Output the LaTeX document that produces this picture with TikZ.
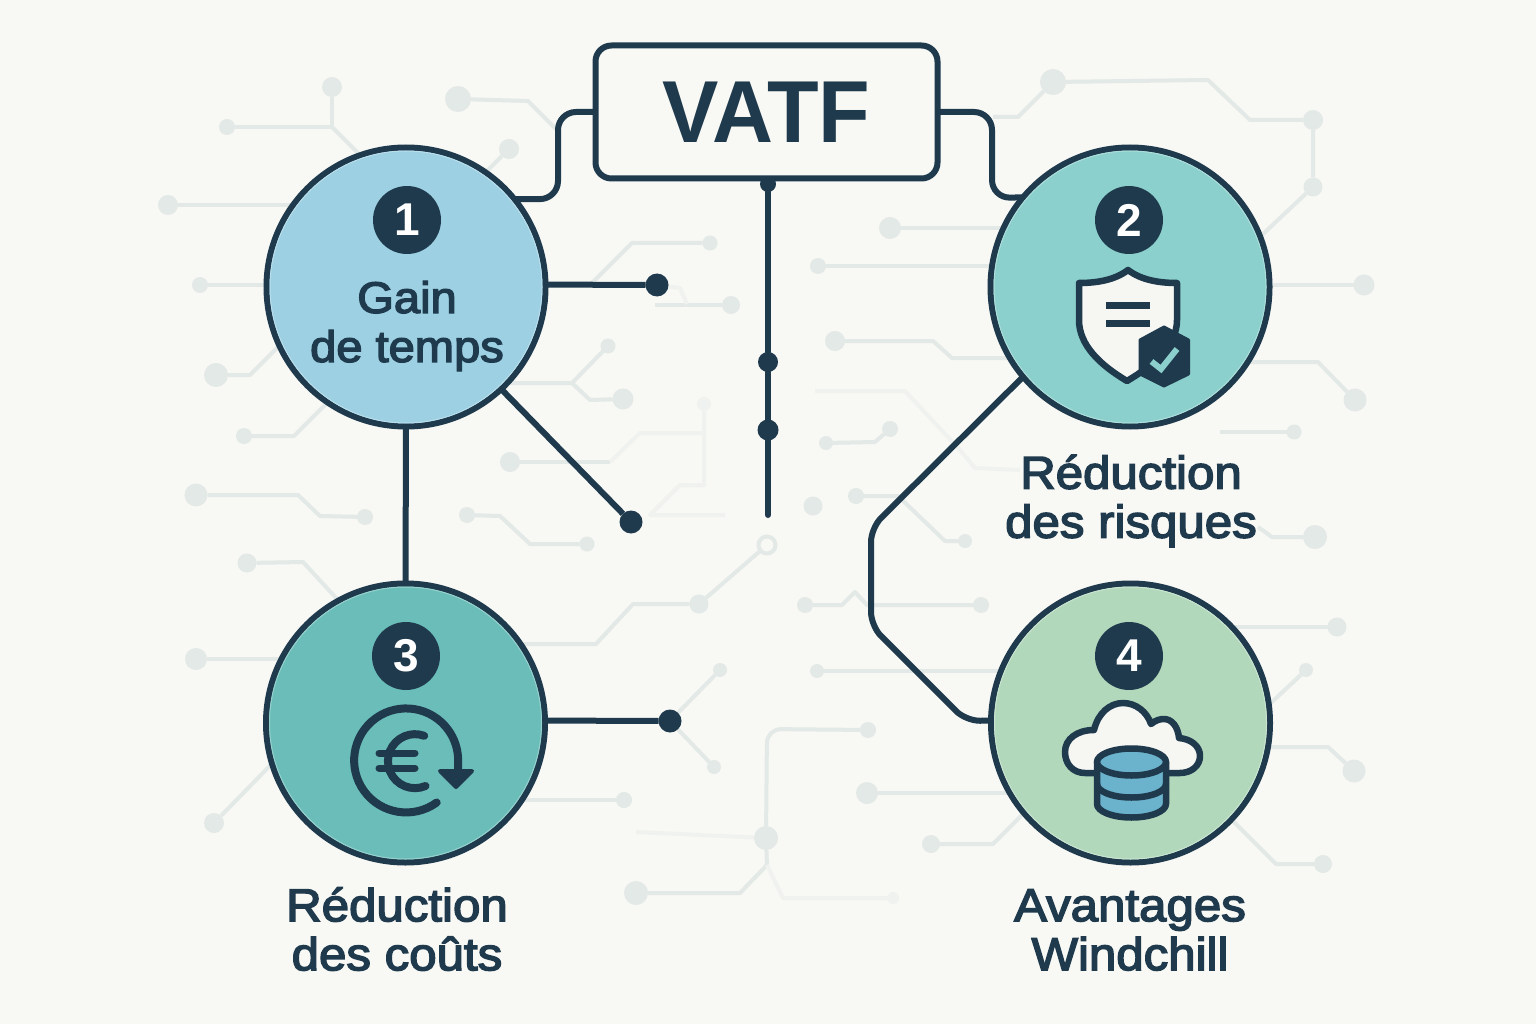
\documentclass[tikz,border=0pt]{standalone}
\usepackage{fontspec}
\setmainfont{Liberation Sans}
\newfontfamily\labfont[FakeBold=3.2,FakeStretch=1.07]{Liberation Sans}
\newfontfamily\titlefont[FakeStretch=0.96]{Liberation Sans Bold}
\newfontfamily\numfont{Liberation Sans Bold}
\definecolor{ink}{HTML}{1F3A4D}
\definecolor{paper}{HTML}{F8F8F4}
\definecolor{trace}{HTML}{E3E9E7}
\definecolor{tracef}{HTML}{F0F2EF}
\definecolor{fillA}{HTML}{9CD0E2}
\definecolor{fillB}{HTML}{8BD0CC}
\definecolor{fillC}{HTML}{6BBDB9}
\definecolor{fillD}{HTML}{B2D8BC}
\definecolor{iconw}{HTML}{F6F6F3}
\definecolor{dbblue}{HTML}{6BB2CC}
\pgfdeclarelayer{traces}
\pgfdeclarelayer{conn}
\pgfsetlayers{traces,conn,main}
\tikzset{
  hub/.style={circle,draw=ink,line width=6pt,inner sep=0pt,outer sep=0pt,minimum size=279pt},
  rim/.style={line width=1pt},
  badge/.style={circle,fill=ink,text=white,inner sep=0pt,minimum size=68pt,font=\fontsize{46}{46}\selectfont\numfont},
  label/.style={text=ink,align=center,inner sep=0pt,font=\fontsize{46}{49}\selectfont\labfont},
  titlebox/.style={draw=ink,fill=paper,line width=6pt,rounded corners=16pt,inner sep=0pt,outer sep=0pt,minimum width=342pt,minimum height=133pt,text=ink,font=\fontsize{88}{88}\selectfont\titlefont},
  conn/.style={draw=ink,line width=6pt,line join=round},
  ddot/.style={circle,fill=ink,inner sep=0pt,outer sep=0pt},
  tdot/.style={circle,fill=trace,inner sep=0pt,outer sep=0pt},
  fdot/.style={circle,fill=tracef,inner sep=0pt,outer sep=0pt},
  tline/.style={draw=trace,line width=4pt,line join=round},
  fline/.style={draw=tracef,line width=4pt,line join=round},
  icon/.style={draw=ink,line width=6.5pt,line join=round},
}
\newcommand{\td}[4]{\node[tdot,minimum size=#4pt] (#1) at (#2,#3) {};}
\begin{document}
\begin{tikzpicture}[x=1pt,y=-1pt]
\useasboundingbox (0,0) rectangle (1536,1024);
% main nodes
\node[hub,fill=fillA] (c1) at (406,287) {};
\node[hub,fill=fillB] (c2) at (1130,287) {};
\node[hub,fill=fillC] (c3) at (405.5,723) {};
\node[hub,fill=fillD] (c4) at (1130.5,723) {};
\draw[rim,draw=fillA!70!white] (c1) circle (136);
\draw[rim,draw=fillB!70!white] (c2) circle (136);
\draw[rim,draw=fillC!70!white] (c3) circle (136);
\draw[rim,draw=fillD!70!white] (c4) circle (136);
\node[titlebox] (box) at (766.5,112) {\raisebox{-6pt}{VATF}};
\node[badge] (n1) at (407,220) {1};
\node[badge] (n2) at (1129,220) {2};
\node[badge] (n3) at (406,656) {3};
\node[badge] (n4) at (1129,656) {4};
\node[label,font=\fontsize{44}{49}\selectfont\labfont] (l1) at (407,326) {Gain\\de temps};
\node[label] (l2) at (1131,501) {Réduction\\des risques};
\node[label] (l3) at (397,929) {Réduction\\des coûts};
\node[label] (l4) at (1130,930) {Avantages\\Windchill};
\node[ddot,minimum size=23pt] (d1) at (657,285) {};
\node[ddot,minimum size=23pt] (d2) at (631,522) {};
\node[ddot,minimum size=23pt] (d3) at (670,721) {};
\node[ddot,minimum size=16pt] (s0) at (768,184) {};
\node[ddot,minimum size=20pt] (s1) at (768,362) {};
\node[ddot,minimum size=21pt] (s2) at (768,430) {};
\coordinate (s3) at (768,515);
% shield icon
\draw[icon,fill=iconw] (1128,270) .. controls (1115,280) and (1097,283) .. (1079,283) -- (1079,320)
  .. controls (1079,345) and (1100,365) .. (1127,381) .. controls (1154,365) and (1177,345) .. (1177,320)
  -- (1177,283) .. controls (1159,283) and (1141,280) .. (1128,270) -- cycle;
\fill[ink] (1106,302) rectangle (1150,309);
\fill[ink] (1106,319.5) rectangle (1150,326.5);
\fill[ink,draw=ink,line width=3pt,line join=round] (1164,327) -- (1188.5,340) -- (1188.5,374) -- (1164,386) -- (1140,374) -- (1140,340) -- cycle;
\draw[draw=fillB,line width=6pt] (1151.5,361.5) -- (1161,369) -- (1177,349);
% euro icon
\draw[draw=ink,line width=8pt,line cap=round] (436.7,802.5) arc[start angle=54,end angle=360,radius=52] -- (458,770);
\fill[ink,draw=ink,line width=4pt,line join=round] (440,771) -- (472,771) -- (456,787) -- cycle;
\draw[draw=ink,line width=8pt,line cap=round] (425.5,786) arc[start angle=67,end angle=290,radius=27];
\draw[draw=ink,line width=7pt,line cap=round] (379,753) -- (415,753);
\draw[draw=ink,line width=7pt,line cap=round] (379,768) -- (415,768);
% cloud + database icon
\draw[icon,fill=iconw] (1098,773) -- (1085,773) .. controls (1073,773) and (1065,764) .. (1065,752)
  .. controls (1065,739) and (1077,730) .. (1094,730) .. controls (1098,713) and (1110,703) .. (1123,703)
  .. controls (1136,703) and (1147,712) .. (1151,724) .. controls (1156,720) and (1160,719) .. (1164,719)
  .. controls (1172,719) and (1178,727) .. (1179,738) .. controls (1191,739) and (1200,746) .. (1200,756)
  .. controls (1200,766) and (1191,773) .. (1180,773) -- (1166,773) -- cycle;
\draw[icon,fill=dbblue] (1097,762) -- (1097,804) arc[start angle=180,end angle=0,x radius=34.5,y radius=13.5] -- (1166,762) -- cycle;
\draw[icon,fill=dbblue] (1131.5,762) ellipse (34.5 and 13.5);
\draw[icon] (1097,784) arc[start angle=180,end angle=0,x radius=34.5,y radius=13.5];
% connectors
\begin{pgfonlayer}{conn}
\draw[conn,rounded corners=18pt] (box.west) -- (558,112) -- (558,199) -- (c1.39);
\draw[conn,rounded corners=18pt] (box.east) -- (992,112) -- (992,198) -- (c2.140);
\draw[conn] (c1.1) -- (d1);
\draw[conn] (c1.-47) -- (d2);
\draw[conn] (c1.south) -- (c3.north);
\draw[conn] (c3.1) -- (d3);
\draw[conn,line cap=round] (box.south -| s0) -- (s0) -- (s1) -- (s2) -- (s3);
\draw[conn,rounded corners=14pt] (c2.220) -- (871,528) -- (871,626) -- (966,721) -- (c4.179);
\end{pgfonlayer}
% background traces
\begin{pgfonlayer}{traces}
\fill[paper] (0,0) rectangle (1536,1024);
\td{a1}{332}{87}{20}\td{a2}{227}{127}{16}
\draw[tline] (a1) -- (332,127) -- (a2); \draw[tline] (332,127) -- (380,175);
\td{a3}{458}{99}{26}\draw[tline] (a3) -- (528,101) -- (556,129);
\td{a4}{509}{149}{20}\draw[tline] (a4) -- (470,188);
\td{a5}{168}{205}{20}\draw[tline] (a5) -- (a5 -| c1);
\td{a6}{200}{285}{16}\draw[tline] (a6) -- (a6 -| c1);
\td{a7}{216}{375}{24}\draw[tline] (a7) -- (250,375) -- (300,325);
\td{a8}{244}{436}{16}\draw[tline] (a8) -- (294,436) -- (342,388);
\td{a9}{196}{495}{23}\td{a10}{365}{517}{16}\draw[tline] (a9) -- (298,495) -- (320,516) -- (a10);
\td{b1}{467}{515}{16}\td{b2}{587}{544}{15}\draw[tline] (b1) -- (500,516) -- (530,544) -- (b2);
\td{b3}{510}{462}{20}\draw[tline] (b3) -- (610,462);
\node[fdot,minimum size=14pt] (b4) at (704,404) {};
\draw[fline] (610,462) -- (640,433) -- (704,433);
\draw[fline] (b4) -- (704,485) -- (680,485) -- (650,515) -- (725,515);
\td{b5}{608}{346}{15}\td{b6}{623}{399}{21}
\draw[tline] (450,383) -- (572,383) -- (b5); \draw[tline] (572,383) -- (590,400) -- (b6);
\td{b7}{710}{243}{15}\draw[tline] (590,285) -- (632,243) -- (b7);
\td{b8}{731}{305}{18}\draw[tline] (655,305) -- (b8);
\draw[fline] (d1) -- (680,288) -- (687,304);
\td{e1}{818}{266}{16}\draw[tline] (e1) -- (e1 -| c2);
\td{e2}{890}{228}{22}\draw[tline] (e2) -- (e2 -| c2);
\td{e3}{835}{341}{20}\draw[tline] (e3) -- (933,341) -- (952,358) -- (1040,358);
\draw[fline] (815,391) -- (905,391) -- (960,450) -- (975,468) -- (1020,470);
\td{e4}{826}{443}{14}\td{e5}{890}{429}{16}\draw[tline] (e4) -- (875,442) -- (e5);
\td{e6}{813}{506}{19}
\td{e7}{856}{496}{16}\td{e8}{965}{541}{14}\draw[tline] (e7) -- (898,496) -- (945,541) -- (e8);
\node[draw=trace,fill=paper,line width=4pt,circle,inner sep=0pt,outer sep=0pt,minimum size=17pt] (f1) at (767,545) {};
\td{f2}{699}{604}{19}
\draw[tline] (f1) -- (f2) -- (633,604) -- (596,644) -- (500,644);
\td{g1}{247}{563}{19}\draw[tline] (g1) -- (303,562) -- (360,624);
\td{g2}{196}{659}{22}\draw[tline] (g2) -- (g2 -| c3);
\td{g3}{214}{823}{20}\draw[tline] (g3) -- (300,735);
\td{g4}{624}{800}{16}\draw[tline] (g4) -- (g4 -| c3);
\td{g5}{720}{670}{14}\td{g6}{714}{767}{14}\draw[tline] (d3) -- (g5); \draw[tline] (d3) -- (g6);
\td{g7}{868}{730}{16}\td{g8}{766}{838}{24}\td{g9}{636}{893}{24}
\draw[tline,rounded corners=14pt] (g7) -- (767,729) -- (g8);
\draw[tline] (g8) -- (767,865) -- (740,893) -- (g9);
\draw[fline] (636,832) -- (g8);
\node[fdot,minimum size=12pt] (g10) at (893,898) {};
\draw[fline] (767,865) -- (783,898) -- (g10);
\td{h1}{805}{605}{16}\td{h2}{981}{605}{16}\draw[tline] (h1) -- (842,605) -- (855,592) -- (867,605) -- (h2);
\td{h3}{817}{671}{14}\draw[tline] (h3) -- (h3 -| c4);
\td{h4}{867}{793}{22}\draw[tline] (h4) -- (h4 -| c4);
\td{h5}{931}{844}{18}\draw[tline] (h5) -- (993,844) -- (1060,777);
\td{h6}{1337}{627}{19}\draw[tline] (h6) -- (h6 -| c4);
\td{h7}{1306}{670}{14}\draw[tline] (h7) -- (1240,732);
\td{h8}{1354}{771}{23}\draw[tline] (h8) -- (1328,747) -- (1230,747);
\td{h9}{1323}{864}{18}\draw[tline] (h9) -- (1276,864) -- (1200,788);
\td{k1}{1053}{82}{26}\td{k2}{1313}{120}{20}\td{k3}{1313}{187}{19}
\draw[tline] (k1) -- (1208,80) -- (1250,120) -- (k2) -- (k3) -- (1230,265);
\draw[tline] (k1) -- (1018,117) -- (993,117);
\td{k4}{1364}{285}{21}\draw[tline] (k4) -- (k4 -| c2);
\td{k5}{1355}{400}{23}\draw[tline] (k5) -- (1318,362) -- (1220,362);
\td{k6}{1294}{432}{15}\draw[tline] (k6) -- (1220,432);
\td{k7}{1315}{537}{24}\draw[tline] (k7) -- (1272,537) -- (1258,527);
\end{pgfonlayer}
\end{tikzpicture}
\end{document}
